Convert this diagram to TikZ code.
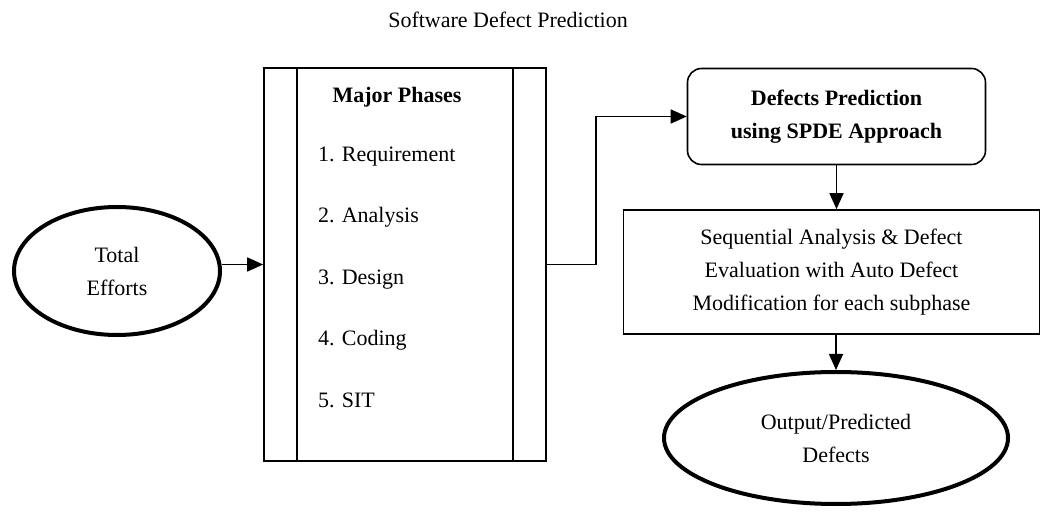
\documentclass[tikz,border=0pt]{standalone}
\usepackage{fontspec}
\setmainfont{Liberation Serif}
\usetikzlibrary{positioning,shapes.geometric,arrows.meta,calc}
\frenchspacing

\tikzset{
    thickellipse/.style={draw, ellipse, line width=2pt, inner sep=0pt, align=center},
    procbox/.style={draw, rectangle, align=center},
    phaseitem/.style={text width=90pt, align=left, inner sep=0pt, text height=8pt, text depth=2.5pt},
}

\begin{document}
\begin{tikzpicture}[x=0.5pt, y=-0.5pt, line width=0.8pt, font=\fontsize{11}{16.5}\selectfont,
        >={Triangle[length=8pt,width=7pt]}, node distance=30.75pt]
        \useasboundingbox (0,0) rectangle (1043,512);

        \node[anchor=base] (title) at (508,28) {Software Defect Prediction};

        % input
        \node[thickellipse, minimum width=103pt, minimum height=64pt] (effort) at (117,271) {Total\\Efforts};

        % phases box with double sides
        \node[procbox, minimum width=141pt, minimum height=196.5pt] (phases) at (405,264.5) {};
        \draw ($(phases.north west)+(34,0)$) -- ($(phases.south west)+(34,0)$);
        \draw ($(phases.north east)+(-34,0)$) -- ($(phases.south east)+(-34,0)$);

        \node (major) at (397,97) {\bfseries Major Phases};
        \node[phaseitem] (req) at (408,156) {1. Requirement};
        \node[phaseitem, below of=req] (ana) {2. Analysis};
        \node[phaseitem, below of=ana] (des) {3. Design};
        \node[phaseitem, below of=des] (cod) {4. Coding};
        \node[phaseitem, below of=cod] (sit) {5. SIT};

        % right column
        \node[procbox, rounded corners=7pt, minimum width=149pt, minimum height=48pt] (predict) at (836.5,116.5) {\bfseries Defects Prediction\\\bfseries using SPDE Approach};
        \node[procbox, minimum width=208pt, minimum height=62pt] (seqeval) at (831.5,272) {Sequential Analysis \& Defect\\Evaluation with Auto Defect\\Modification for each subphase};
        \node[thickellipse, minimum width=172pt, minimum height=66pt] (output) at (836,438) {Output/Predicted\\Defects};

        \draw[->] (phases.west -| effort.east) -- (phases.west);
        \draw[->] (phases.east) -- ++(49,0) |- (predict.west);
        \draw[->] (predict.south) -- (predict.south |- seqeval.north);
        \draw[->] (output.north |- seqeval.south) -- (output.north);
    \end{tikzpicture}
\end{document}
